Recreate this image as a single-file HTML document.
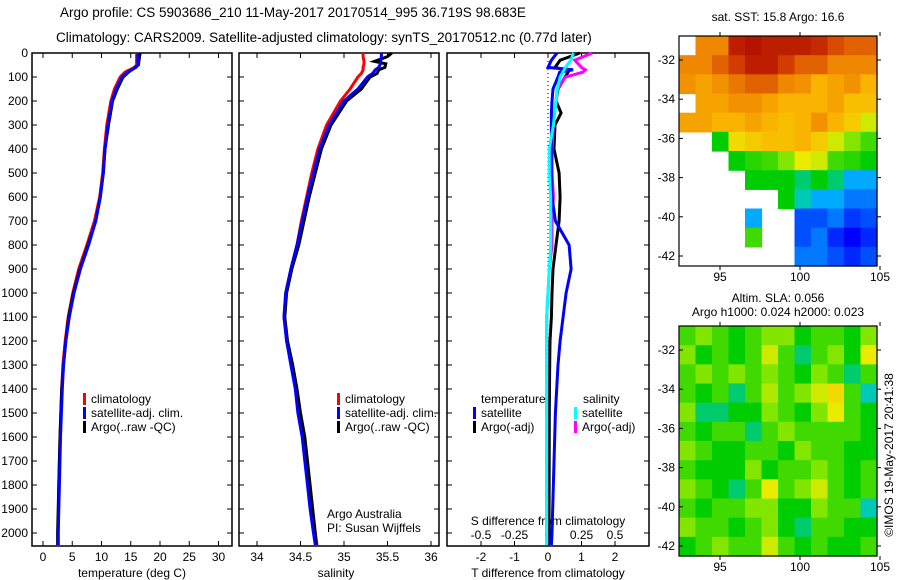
<!DOCTYPE html>
<html><head><meta charset="utf-8"><style>
body{margin:0;background:#fff;}
svg{display:block;font-family:"Liberation Sans",sans-serif;}
</style></head><body>
<svg id="fig" width="900" height="580" viewBox="0 0 900 580" xmlns="http://www.w3.org/2000/svg">
<text x="60" y="17" font-size="13.5">Argo profile: CS 5903686_210 11-May-2017 20170514_995 36.719S 98.683E</text>
<text x="56" y="42" font-size="13.5">Climatology: CARS2009. Satellite-adjusted climatology: synTS_20170512.nc (0.77d later)</text>
<text x="778" y="21" font-size="12" text-anchor="middle">sat. SST: 15.8 Argo: 16.6</text>
<text x="778" y="302" font-size="12" text-anchor="middle">Altim. SLA: 0.056</text>
<text x="778" y="316" font-size="12" text-anchor="middle">Argo h1000: 0.024 h2000: 0.023</text>
<text transform="translate(893,455) rotate(-90)" font-size="12" text-anchor="middle">©IMOS 19-May-2017 20:41:38</text>
<g id="plots"></g>
</svg>
<script>
// ---- data ----
const depthsT = [0,50,60,80,100,150,200,300,400,500,600,700,800,900,1000,1100,1200,1300,1400,1600,1800,2000,2050];
const tempClim = [16.0,16.0,15.6,14.0,13.2,12.2,11.6,10.9,10.5,10.2,9.7,8.8,7.5,6.1,5.1,4.3,3.8,3.4,3.2,2.9,2.7,2.6,2.6];
const tempSat  = [16.2,16.2,15.9,14.4,13.5,12.5,11.8,11.1,10.6,10.3,9.8,9.0,7.8,6.4,5.3,4.5,3.9,3.5,3.3,3.0,2.8,2.6,2.6];
const tempArgo = [16.6,16.3,15.8,14.6,13.7,12.7,11.9,11.2,10.6,10.3,9.8,9.0,7.7,6.3,5.2,4.4,3.9,3.5,3.2,2.9,2.7,2.5,2.5];
const depthsS = [0,15,35,45,60,70,85,100,150,200,300,400,500,600,700,800,900,1000,1100,1200,1300,1400,1500,1600,1700,1800,1900,2000,2050];
const salClim = [35.22,35.22,35.23,35.23,35.22,35.22,35.2,35.16,35.07,34.96,34.8,34.7,34.63,34.57,34.51,34.46,34.39,34.33,34.31,34.34,34.4,34.45,34.48,34.53,34.56,34.59,34.62,34.67,34.69];
const salSat  = [35.43,35.43,35.42,35.42,35.4,35.36,35.33,35.27,35.16,35.0,34.83,34.72,34.65,34.58,34.52,34.46,34.39,34.33,34.31,34.34,34.39,34.44,34.47,34.52,34.55,34.58,34.61,34.65,34.67];
const salArgo = [35.55,35.5,35.35,35.48,35.47,35.4,35.38,35.3,35.2,35.03,34.85,34.74,34.67,34.6,34.54,34.48,34.4,34.34,34.32,34.35,34.41,34.46,34.5,34.55,34.58,34.61,34.64,34.67,34.68];
const depthsD = [0,30,60,70,80,100,150,200,250,300,400,500,600,700,800,900,1000,1100,1200,1300,1500,2000,2050];
const dTsat  = [0.27,0.1,0.0,0.75,0.35,0.3,0.15,0.12,0.1,0.1,0.1,0.1,0.12,0.22,0.63,0.69,0.54,0.45,0.36,0.3,0.22,0.12,0.1];
const dTargo = [0.95,0.36,0.21,0.5,0.6,0.51,0.3,0.24,0.39,0.21,0.18,0.33,0.36,0.33,0.24,0.15,0.12,0.1,0.06,0.05,0.04,0.03,0.03];
const dSsat  = [0.19,0.17,0.13,0.12,0.11,0.09,0.07,0.06,0.05,0.04,0.01,0.01,0.02,0.02,0.02,0.01,0.0,-0.01,-0.01,-0.01,-0.01,-0.01,-0.01];
const dSargo = [0.33,0.2,0.25,0.28,0.26,0.13,0.07,0.06,0.05,0.04,0.03,0.03,0.04,0.03,0.03,0.01,0.0,-0.01,-0.01,-0.01,-0.01,-0.01,-0.01];
const depthTicks = [0,100,200,300,400,500,600,700,800,900,1000,1100,1200,1300,1400,1500,1600,1700,1800,1900,2000];
const tempTicks = [0,5,10,15,20,25,30];
const salTicks = [34,34.5,35,35.5,36];
const dTTicks = [-2,-1,0,1,2];
const dSTicks = [-0.5,-0.25,0,0.25,0.5];
const latTicks = [-32,-34,-36,-38,-40,-42];
const lonTicks = [95,100,105];
const sstGrid = [
[-1,0.8,0.8,0.95,0.97,0.95,0.95,0.95,0.93,0.88,0.85,0.85],
[0.8,0.8,0.85,0.9,0.95,0.95,0.9,0.85,0.85,0.8,0.8,0.8],
[0.78,0.75,0.78,0.82,0.85,0.85,0.8,0.78,0.72,0.75,0.78,0.72],
[-1,0.75,0.75,0.78,0.78,0.75,0.72,0.72,0.72,0.75,0.7,0.7],
[0.75,0.75,0.72,0.72,0.75,0.72,0.7,0.72,0.78,0.72,0.68,0.6],
[-1,-1,0.45,0.65,0.68,0.7,0.7,0.72,0.68,0.6,0.55,0.5],
[-1,-1,-1,0.45,0.48,0.5,0.55,0.62,0.6,0.5,0.48,0.45],
[-1,-1,-1,-1,0.45,0.45,0.45,0.42,0.45,0.42,0.35,0.35],
[-1,-1,-1,-1,-1,-1,0.45,0.4,0.35,0.35,0.3,0.3],
[-1,-1,-1,-1,0.35,-1,-1,0.25,0.25,0.3,0.22,0.25],
[-1,-1,-1,-1,0.5,-1,-1,0.25,0.3,0.2,0.15,0.2],
[-1,-1,-1,-1,-1,-1,-1,0.3,0.3,0.25,0.2,0.25]];
const slaGrid = [
[0.5,0.55,0.5,0.45,0.5,0.55,0.55,0.45,0.5,0.5,0.45,0.55],
[0.55,0.45,0.5,0.45,0.5,0.6,0.5,0.42,0.5,0.55,0.45,0.62],
[0.5,0.55,0.5,0.55,0.5,0.55,0.5,0.45,0.55,0.5,0.42,0.5],
[0.5,0.45,0.5,0.42,0.5,0.58,0.5,0.55,0.6,0.65,0.5,0.4],
[0.55,0.42,0.42,0.45,0.45,0.55,0.5,0.45,0.55,0.62,0.5,0.45],
[0.5,0.45,0.5,0.5,0.42,0.5,0.55,0.5,0.5,0.5,0.5,0.45],
[0.55,0.5,0.45,0.45,0.5,0.5,0.45,0.55,0.5,0.5,0.45,0.45],
[0.5,0.45,0.45,0.45,0.55,0.45,0.5,0.5,0.55,0.5,0.45,0.5],
[0.55,0.5,0.45,0.42,0.5,0.62,0.5,0.55,0.6,0.5,0.45,0.5],
[0.5,0.45,0.5,0.5,0.55,0.55,0.45,0.45,0.55,0.5,0.5,0.4],
[0.55,0.5,0.5,0.45,0.5,0.55,0.45,0.42,0.5,0.5,0.45,0.45],
[0.45,0.5,0.55,0.5,0.5,0.6,0.5,0.45,0.5,0.45,0.45,0.5]];

// ---- drawing ----
const NS='http://www.w3.org/2000/svg';
const root=document.getElementById('plots');
function mk(tag,attrs,parent,txt){const e=document.createElementNS(NS,tag);for(const k in attrs)e.setAttribute(k,attrs[k]);if(txt!==undefined)e.textContent=txt;(parent||root).appendChild(e);return e;}
const yD = d => 53 + d*0.24;
const TOP=53, BOT=546;
function frame(x0,x1,name){
  const r=mk('rect',{x:x0,y:TOP,width:x1-x0,height:BOT-TOP,fill:'none',stroke:'#000','stroke-width':1.5});
  
  
}
function depthTicksDraw(x0,x1,labels){
  depthTicks.forEach(d=>{const y=yD(d);
    mk('line',{x1:x0,y1:y,x2:x0+5,y2:y,stroke:'#000'});
    mk('line',{x1:x1,y1:y,x2:x1-5,y2:y,stroke:'#000'});
    if(labels){const t=mk('text',{x:x0-4,y:y+4,'font-size':12,'text-anchor':'end'},root,String(d));
      
      }
  });
}
function xTicks(vals,fx,ytext,name,top){
  vals.forEach(v=>{const x=fx(v);
    mk('line',{x1:x,y1:BOT,x2:x,y2:BOT-5,stroke:'#000'});
    if(top) mk('line',{x1:x,y1:TOP,x2:x,y2:TOP+5,stroke:'#000'});
    const t=mk('text',{x:x,y:ytext,'font-size':12,'text-anchor':'middle'},root,String(v));
    
    
  });
}
function line(xs,ds,fx,color,name){
  const pts=xs.map((v,i)=>fx(v).toFixed(1)+','+yD(ds[i]).toFixed(1)).join(' ');
  const p=mk('polyline',{points:pts,fill:'none',stroke:color,'stroke-width':3,'stroke-linejoin':'miter'});
  
  
}
function legendEntry(x,y,color,label){
  const g=mk('g',{});
  
  
  mk('rect',{x:x,y:y-10,width:3,height:12,fill:color},g);
  mk('text',{x:x+8,y:y,'font-size':12},g,label);
}
// Panel 1: temperature
const fT = v => 43 + v*5.85;
frame(32,232,'temperature-plot-frame');
depthTicksDraw(32,232,true);
xTicks(tempTicks,fT,561,'temperature-tick-label',true);
line(tempClim,depthsT,fT,'#ff0000','temp-climatology-line');
line(tempArgo,depthsT,fT,'#000000','temp-argo-line');
line(tempSat,depthsT,fT,'#0000ff','temp-satellite-line');
legendEntry(83,403,'#ff0000','climatology');
legendEntry(83,417,'#0000ff','satellite-adj. clim.');
legendEntry(83,431,'#000000','Argo(..raw -QC)');
let t=mk('text',{x:132,y:577,'font-size':12,'text-anchor':'middle'},root,'temperature (deg C)');

// Panel 2: salinity
const fS = v => 257 + (v-34)*87;
frame(239,439,'salinity-plot-frame');
depthTicksDraw(239,439,false);
xTicks(salTicks,fS,561,'salinity-tick-label',true);
line(salClim,depthsS,fS,'#ff0000','sal-climatology-line');
line(salArgo,depthsS,fS,'#000000','sal-argo-line');
line(salSat,depthsS,fS,'#0000ff','sal-satellite-line');
legendEntry(337,403,'#ff0000','climatology');
legendEntry(337,417,'#0000ff','satellite-adj. clim.');
legendEntry(337,431,'#000000','Argo(..raw -QC)');
mk('text',{x:327,y:518,'font-size':12},root,'Argo Australia');
mk('text',{x:327,y:532,'font-size':12},root,'PI: Susan Wijffels');
t=mk('text',{x:336,y:577,'font-size':12,'text-anchor':'middle'},root,'salinity');

// Panel 3: differences
const fdT = v => 548 + v*33.5;
const fdS = v => 548 + v*134;
frame(447,649,'difference-plot-frame');
depthTicksDraw(447,649,false);
mk('line',{x1:548,y1:TOP,x2:548,y2:BOT,stroke:'#000','stroke-dasharray':'1,3'});
xTicks(dTTicks,fdT,561,'t-diff-tick-label',true);
dSTicks.forEach(v=>{const x=fdS(v);
  t=mk('text',{x:x,y:539,'font-size':12,'text-anchor':'middle'},root,String(v));
  });
mk('text',{x:548,y:525,'font-size':12,'text-anchor':'middle'},root,'S difference from climatology');
t=mk('text',{x:548,y:577,'font-size':12,'text-anchor':'middle'},root,'T difference from climatology');

line(dTargo,depthsD,fdT,'#000000','dT-argo-line');
line(dSargo,depthsD,fdS,'#ff00ff','dS-argo-line');
line(dTsat,depthsD,fdT,'#0000ff','dT-satellite-line');
line(dSsat,depthsD,fdS,'#00ffff','dS-satellite-line');
mk('text',{x:481,y:403,'font-size':12},root,'temperature');
mk('text',{x:583,y:403,'font-size':12},root,'salinity');
legendEntry(473,417,'#0000ff','satellite');
legendEntry(473,431,'#000000','Argo(-adj)');
legendEntry(574,417,'#00ffff','satellite');
legendEntry(574,431,'#ff00ff','Argo(-adj)');
// Maps
const cmapStops=[[0,0,0,128],[0.15,0,0,255],[0.3,0,120,255],[0.38,0,200,255],[0.45,0,205,0],[0.55,130,230,0],[0.62,235,235,0],[0.72,250,180,0],[0.8,240,135,0],[0.9,210,60,0],[1,170,0,0]];
function cmap(v){
  for(let i=1;i<cmapStops.length;i++){
    const a=cmapStops[i-1],b=cmapStops[i];
    if(v<=b[0]){const f=(v-a[0])/(b[0]-a[0]);
      return 'rgb('+[1,2,3].map(k=>Math.round(a[k]+(b[k]-a[k])*f)).join(',')+')';}
  }
  return 'rgb(170,0,0)';
}
function drawMap(grid,y0,name){
  const x0=679,x1=877,y1=y0+230;
  const nr=grid.length,nc=grid[0].length,cw=(x1-x0)/nc,ch=(y1-y0)/nr;
  const g=mk('g',{});
  
  
  grid.forEach((row,i)=>row.forEach((v,j)=>{
    if(v<0) return;
    const r=mk('rect',{x:(x0+j*cw).toFixed(2),y:(y0+i*ch).toFixed(2),width:(cw+0.6).toFixed(2),height:(ch+0.6).toFixed(2),fill:cmap(v)},g);
    
    
  }));
  mk('rect',{x:x0,y:y0,width:x1-x0,height:y1-y0,fill:'none',stroke:'#000','stroke-width':1.2});
  const fy=lat=>y0+24+(-32-lat)*19.6;
  const fx=lon=>720+(lon-95)*16;
  latTicks.forEach(l=>{const y=fy(l);
    mk('line',{x1:x0,y1:y,x2:x0+4,y2:y,stroke:'#000'});
    mk('line',{x1:x1,y1:y,x2:x1+4,y2:y,stroke:'#000'});
    t=mk('text',{x:x0-4,y:y+4,'font-size':12,'text-anchor':'end'},root,String(l));
    });
  lonTicks.forEach(l=>{const x=fx(l);
    mk('line',{x1:x,y1:y1,x2:x,y2:y1+4,stroke:'#000'});
    mk('line',{x1:x,y1:y0,x2:x,y2:y0-4,stroke:'#000'});
    t=mk('text',{x:x,y:y1+15,'font-size':12,'text-anchor':'middle'},root,String(l));
    });
}
drawMap(sstGrid,36,'sst-map');
drawMap(slaGrid,326,'sla-map');
</script>
</body></html>
